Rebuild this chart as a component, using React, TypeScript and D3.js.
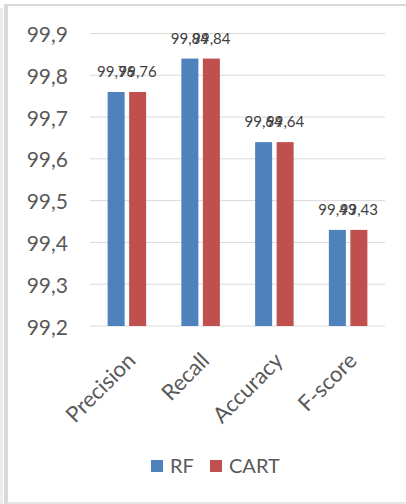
import React from "react";
import * as d3 from "d3";

const categories = ["Precision", "Recall", "Accuracy", "F-score"];
const seriesNames = ["RF", "CART"];
const rfValues = [99.76, 99.84, 99.64, 99.43];
const cartValues = [99.76, 99.84, 99.64, 99.43];
const yTicks = [99.2, 99.3, 99.4, 99.5, 99.6, 99.7, 99.8, 99.9];

const W = 406;
const H = 504;
const colors = ["#4f81bd", "#c0504d"];
const font = "Lato, 'Open Sans', sans-serif";

export default function App() {
  const x = d3.scaleBand<string>().domain(categories).range([90, 385]).padding(0);
  const y = d3.scaleLinear().domain([99.2, 99.9]).range([326, 33.5]);
  const barW = 17;
  const gap = 4.5;
  const fmt = (v: number) => String(v).replace(".", ",");
  const series = [rfValues, cartValues];

  return (
    <div style={{ position: "fixed", left: 0, top: 0, width: W, height: H, background: "#fff" }}>
      <svg width={W} height={H} style={{ display: "block" }}>
        <rect x={0} y={0} width={W} height={H} fill="#fff" />
        {/* chart frame */}
        <rect x={0} y={8} width={3} height={H - 8} fill="#ececec" />
        <rect x={4} y={4} width={4} height={H - 4} fill="#d9d9d9" />
        <rect x={7} y={4} width={W - 7} height={2} fill="#d9d9d9" />
        <rect x={7} y={H - 2} width={W - 7} height={2} fill="#e6e6e6" />

        {/* gridlines and y tick labels */}
        {yTicks.map((t) => (
          <g key={t}>
            <line x1={90} x2={385} y1={y(t)} y2={y(t)} stroke="#d9d9d9" strokeWidth={1} />
            <text
              x={68}
              y={y(t)}
              textAnchor="end"
              dominantBaseline="central"
              fontFamily={font}
              fontSize={21}
              fill="#595959"
            >
              {fmt(t)}
            </text>
          </g>
        ))}

        {/* bars */}
        {categories.map((c, i) => {
          const cx = (x(c) ?? 0) + x.bandwidth() / 2;
          return series.map((vals, s) => {
            const bx = s === 0 ? cx - gap / 2 - barW : cx + gap / 2;
            return (
              <rect
                key={c + s}
                x={bx}
                y={y(vals[i])}
                width={barW}
                height={y(99.2) - y(vals[i])}
                fill={colors[s]}
              />
            );
          });
        })}

        {/* data labels */}
        {categories.map((c, i) => {
          const cx = (x(c) ?? 0) + x.bandwidth() / 2;
          return series.map((vals, s) => {
            const bx = s === 0 ? cx - gap / 2 - barW : cx + gap / 2;
            return (
              <text
                key={"l" + c + s}
                x={bx + barW / 2}
                y={y(vals[i]) - 15}
                textAnchor="middle"
                fontFamily={font}
                fontSize={15}
                fill="#404040"
              >
                {fmt(vals[i])}
              </text>
            );
          });
        })}

        {/* category labels */}
        {categories.map((c) => {
          const cx = (x(c) ?? 0) + x.bandwidth() / 2;
          const ax = cx + 10;
          const ay = 362;
          return (
            <text
              key={"c" + c}
              x={ax}
              y={ay}
              textAnchor="end"
              transform={`rotate(-45 ${ax} ${ay})`}
              fontFamily={font}
              fontSize={22}
              fill="#595959"
            >
              {c}
            </text>
          );
        })}

        {/* legend */}
        <rect x={151} y={460} width={12} height={12} fill={colors[0]} />
        <text x={170} y={473} fontFamily={font} fontSize={20} fill="#595959">
          {seriesNames[0]}
        </text>
        <rect x={210} y={460} width={12} height={12} fill={colors[1]} />
        <text x={229} y={473} fontFamily={font} fontSize={20} fill="#595959">
          {seriesNames[1]}
        </text>
      </svg>
    </div>
  );
}
